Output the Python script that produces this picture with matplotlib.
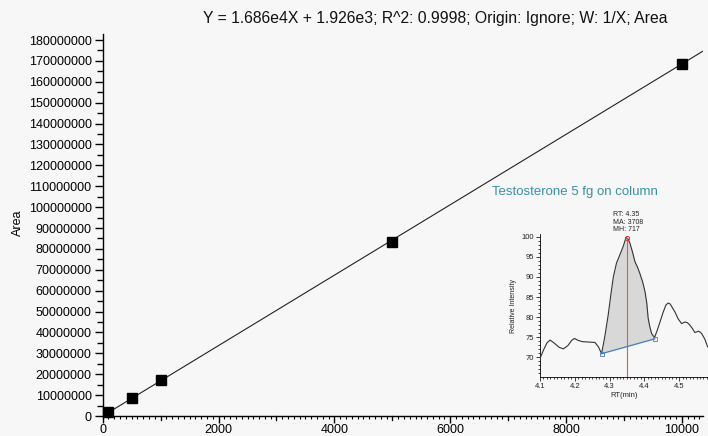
import matplotlib
matplotlib.use("Agg")
import matplotlib.pyplot as plt
from matplotlib.ticker import MultipleLocator, FixedLocator
import numpy as np

plt.rcParams['font.family'] = ['Liberation Sans', 'DejaVu Sans']

# ---- data ----
conc = [100, 500, 1000, 5000, 10000]
area = [1.70e6, 8.40e6, 1.70e7, 8.33e7, 1.685e8]
slope = 1.686e4
intercept = 1.926e3
title = "Y = 1.686e4X + 1.926e3; R^2: 0.9998; Origin: Ignore; W: 1/X; Area"

rt = [4.100, 4.110, 4.120, 4.129, 4.140, 4.155, 4.167, 4.180, 4.191, 4.199, 4.210,
      4.222, 4.240, 4.258, 4.268, 4.277, 4.286, 4.296, 4.304, 4.311, 4.320, 4.330,
      4.340, 4.347, 4.353, 4.359, 4.366, 4.373, 4.380, 4.387, 4.395, 4.402, 4.407,
      4.411, 4.416, 4.421, 4.426, 4.430, 4.437, 4.445, 4.454, 4.462, 4.468, 4.474,
      4.481, 4.488, 4.497, 4.507, 4.512, 4.517, 4.524, 4.531, 4.538, 4.545, 4.550,
      4.555, 4.560, 4.565, 4.574, 4.582]
intensity = [69.7, 71.8, 73.6, 74.3, 73.6, 72.5, 72.1, 72.9, 74.2, 74.7, 74.2,
             73.9, 73.8, 73.7, 72.6, 70.9, 75.0, 80.5, 85.8, 90.1, 93.5, 95.6,
             97.8, 99.8, 99.5, 98.3, 96.2, 93.8, 92.5, 90.9, 88.8, 86.3, 83.5,
             79.7, 77.5, 75.9, 75.3, 75.1, 76.7, 78.8, 81.2, 83.0, 83.5, 83.3,
             82.3, 81.3, 79.6, 78.4, 78.6, 78.8, 78.6, 78.0, 77.2, 76.2, 76.3,
             76.5, 76.3, 75.9, 74.5, 72.6]
base_rt = [4.277, 4.430]
base_int = [70.9, 74.6]
apex_rt = 4.35
apex_int = 99.7
peak_info = "RT: 4.35\nMA: 3708\nMH: 717"
inset_title = "Testosterone 5 fg on column"

W, H = 708, 436
fig = plt.figure(figsize=(W / 100, H / 100), dpi=100)
bg = '#f7f7f7'
fig.patch.set_facecolor(bg)

def px(x0, y0, x1, y1):
    return [x0 / W, 1 - y1 / H, (x1 - x0) / W, (y1 - y0) / H]

ax = fig.add_axes(px(102.7, 34, 702.7, 416))
ax.set_facecolor(bg)
for s in ['top', 'right']:
    ax.spines[s].set_visible(False)
for s in ['left', 'bottom']:
    ax.spines[s].set_linewidth(1.0)
ax.set_xlim(0, 10357)
ax.set_ylim(0, 182.9e6)

xs = np.array(ax.get_xlim())
ax.plot(xs, slope * xs + intercept, color='#222222', lw=0.8, zorder=2)
ax.plot(conc, area, 's', color='black', ms=7, zorder=3, clip_on=False)

ax.xaxis.set_major_locator(FixedLocator([0, 2000, 4000, 6000, 8000, 10000]))
ax.xaxis.set_minor_locator(MultipleLocator(100))
ax.yaxis.set_major_locator(MultipleLocator(1e7))
ax.yaxis.set_minor_locator(MultipleLocator(5e6))
ax.yaxis.set_major_formatter(plt.FuncFormatter(lambda v, p: f"{int(round(v))}"))
ax.tick_params(axis='both', which='major', length=6, width=1.0, labelsize=9,
               colors='black', pad=2)
ax.tick_params(axis='x', which='major', length=5, pad=0.5)
ax.tick_params(axis='x', which='minor', length=2.5, width=0.8)
ax.tick_params(axis='y', which='minor', length=4, width=1.0)
# medium ticks at odd thousands
for xv in [1000, 3000, 5000, 7000, 9000]:
    ax.plot([xv, xv], [0, -2.0e6], color='black', lw=0.9, clip_on=False)
ax.set_ylabel("Area", fontsize=9)
ax.yaxis.set_label_coords(-0.131, 0.505)

fig.text(435 / W, 1 - 18.3 / H, title, ha='center', va='center', fontsize=11.3,
         color='#111111')

fig.text(492 / W, 1 - 192 / H, inset_title, ha='left', va='center',
         fontsize=9.5, color='#3a90a8')

# ---- inset ----
ia = fig.add_axes(px(540, 234, 708, 377))
ia.set_facecolor(bg)
for s in ['top', 'right']:
    ia.spines[s].set_visible(False)
for s in ['left', 'bottom']:
    ia.spines[s].set_linewidth(0.6)
ia.set_xlim(4.1, 4.583)
ia.set_ylim(65.1, 100.7)
ia.plot(rt, intensity, color='#333333', lw=0.8, zorder=3)
rt_a = np.array(rt)
int_a = np.array(intensity)
m = (rt_a >= base_rt[0]) & (rt_a <= base_rt[1])
base_line = np.interp(rt_a[m], base_rt, base_int)
ia.fill_between(rt_a[m], base_line, int_a[m], color='#d8d8d8', lw=0, zorder=1)
ia.plot(base_rt, base_int, color='#4a7fc0', lw=0.9, zorder=4)
ia.plot(base_rt, base_int, 's', mfc='none', mec='#4a7fc0', ms=3.5, mew=0.6,
        zorder=5, clip_on=False)
ia.plot([apex_rt, apex_rt], [65.1, apex_int], color='#f05050', lw=0.8, zorder=4)
ia.plot([apex_rt], [apex_int], 'o', mfc='none', mec='#e03030', ms=3, mew=0.7,
        zorder=6, clip_on=False)
ia.xaxis.set_major_locator(FixedLocator([4.1, 4.2, 4.3, 4.4, 4.5]))
ia.xaxis.set_major_formatter(plt.FuncFormatter(lambda v, p: f"{v:.1f}"))
ia.xaxis.set_minor_locator(MultipleLocator(0.01))
ia.yaxis.set_major_locator(FixedLocator([70, 75, 80, 85, 90, 95, 100]))
ia.yaxis.set_minor_locator(MultipleLocator(1))
ia.tick_params(axis='both', which='major', length=3, width=0.6, labelsize=5.5,
               pad=1.5, colors='#222222')
ia.tick_params(axis='both', which='minor', length=1.5, width=0.5)
ia.set_xlabel("RT(min)", fontsize=5.5, labelpad=1.5, color='#222222')
ia.set_ylabel("Relative Intensity", fontsize=5, labelpad=3, color='#222222')
fig.text(613 / W, 1 - 222 / H, peak_info, ha='left', va='center', fontsize=5,
         color='#222222', linespacing=1.15)

fig.savefig("out.png", dpi=100, facecolor=bg)
